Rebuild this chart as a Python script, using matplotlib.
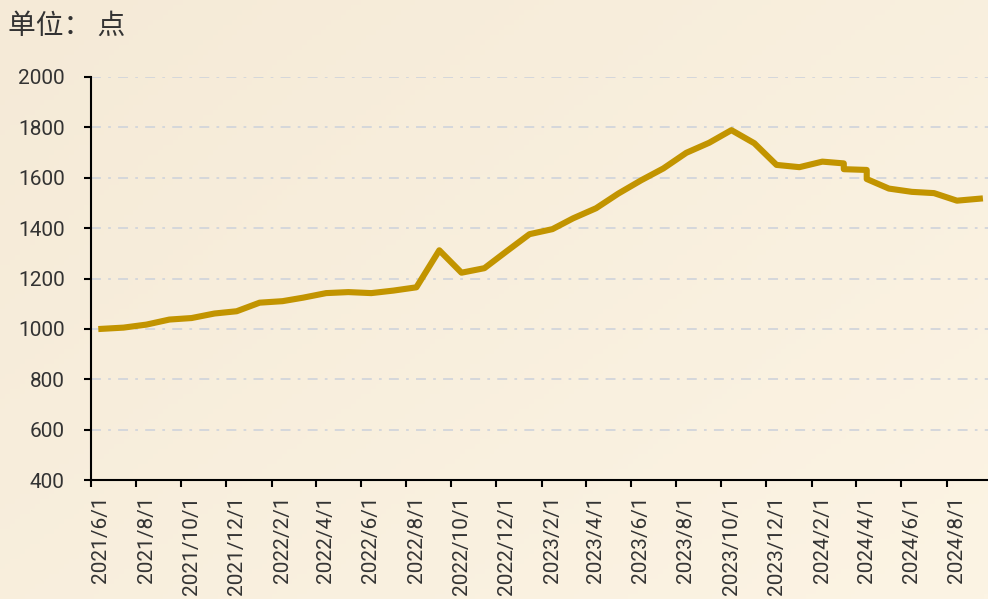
import matplotlib.pyplot as plt
import matplotlib.transforms as mtransforms
import numpy as np
import pandas as pd

# monthly index values (mid-month), two values in 2024/3 and 2024/4
dates = ["2021-06-15", "2021-07-15", "2021-08-15", "2021-09-15", "2021-10-15",
         "2021-11-15", "2021-12-15", "2022-01-15", "2022-02-15", "2022-03-15",
         "2022-04-15", "2022-05-15", "2022-06-15", "2022-07-15", "2022-08-15",
         "2022-09-15", "2022-10-15", "2022-11-15", "2022-12-15", "2023-01-15",
         "2023-02-15", "2023-03-15", "2023-04-15", "2023-05-15", "2023-06-15",
         "2023-07-15", "2023-08-15", "2023-09-15", "2023-10-15", "2023-11-15",
         "2023-12-15", "2024-01-15", "2024-02-15", "2024-03-15", "2024-03-15",
         "2024-04-15", "2024-04-15", "2024-05-15", "2024-06-15", "2024-07-15",
         "2024-08-15", "2024-09-15"]
values = [1000, 1005, 1017, 1037, 1043,
          1061, 1070, 1104, 1110, 1124,
          1142, 1146, 1142, 1152, 1165,
          1312, 1223, 1241, 1308, 1376,
          1396, 1439, 1479, 1537, 1590,
          1637, 1699, 1739, 1789, 1737,
          1651, 1642, 1664, 1657, 1634,
          1631, 1595, 1557, 1544, 1539,
          1509, 1517]

y_ticks = [400, 600, 800, 1000, 1200, 1400, 1600, 1800, 2000]
x_ticks = ["2021-06-01", "2021-08-01", "2021-10-01", "2021-12-01", "2022-02-01",
           "2022-04-01", "2022-06-01", "2022-08-01", "2022-10-01", "2022-12-01",
           "2023-02-01", "2023-04-01", "2023-06-01", "2023-08-01", "2023-10-01",
           "2023-12-01", "2024-02-01", "2024-04-01", "2024-06-01", "2024-08-01"]
unit_label = "单位： 点"

x = pd.to_datetime(dates)
xt = pd.to_datetime(x_ticks)

fig = plt.figure(figsize=(9.88, 5.99), dpi=100)

# cream background with soft gradient
bg = fig.add_axes([0, 0, 1, 1], zorder=-1)
gx, gy = np.meshgrid(np.linspace(0, 1, 200), np.linspace(0, 1, 120))
t = np.clip(0.55 * gx + 0.45 * gy, 0, 1)
c0 = np.array([245, 234, 215]) / 255
c1 = np.array([252, 244, 228]) / 255
img = c0[None, None, :] * (1 - t[..., None]) + c1[None, None, :] * t[..., None]
bg.imshow(img, aspect='auto', extent=[0, 1, 0, 1], origin='upper')
bg.axis('off')

ax = fig.add_axes([91 / 988, 119 / 599, 897 / 988, 403 / 599])
ax.set_facecolor('none')

ax.plot(x, values, color='#C29400', lw=4.4, solid_joinstyle='round', zorder=3)

ax.set_ylim(400, 2000)
ax.set_yticks(y_ticks)
ax.set_xlim(pd.Timestamp("2021-06-01"), pd.Timestamp("2024-09-26"))
ax.set_xticks(xt)
ax.set_xticklabels([f"{d.year}/{d.month}/{d.day}" for d in xt], rotation=90)

ax.yaxis.grid(True, color='#D2D5DB', lw=1.3, linestyle=(0, (5.5, 4, 1.5, 4)))
ax.set_axisbelow(True)

for s in ['top', 'right']:
    ax.spines[s].set_visible(False)
for s in ['left', 'bottom']:
    ax.spines[s].set_linewidth(1.5)
    ax.spines[s].set_color('black')

ax.tick_params(axis='y', length=5, width=1.5, pad=14, labelsize=15,
               labelcolor='#333333', labelfontfamily='Roboto')
ax.tick_params(axis='x', length=5, width=1.5, pad=6, labelsize=15,
               labelcolor='#333333', labelfontfamily='Roboto')

# x labels sit a little right of their ticks in the original
shift = mtransforms.ScaledTranslation(10 / 100, 0, fig.dpi_scale_trans)
for lab in ax.get_xticklabels():
    lab.set_transform(lab.get_transform() + shift)

fig.text(8 / 988, 1 - 11 / 599, unit_label, ha='left', va='top', fontsize=20,
         color='#333333', family=['Noto Sans CJK SC', 'DejaVu Sans'])

fig.savefig("out.png", dpi=100)
